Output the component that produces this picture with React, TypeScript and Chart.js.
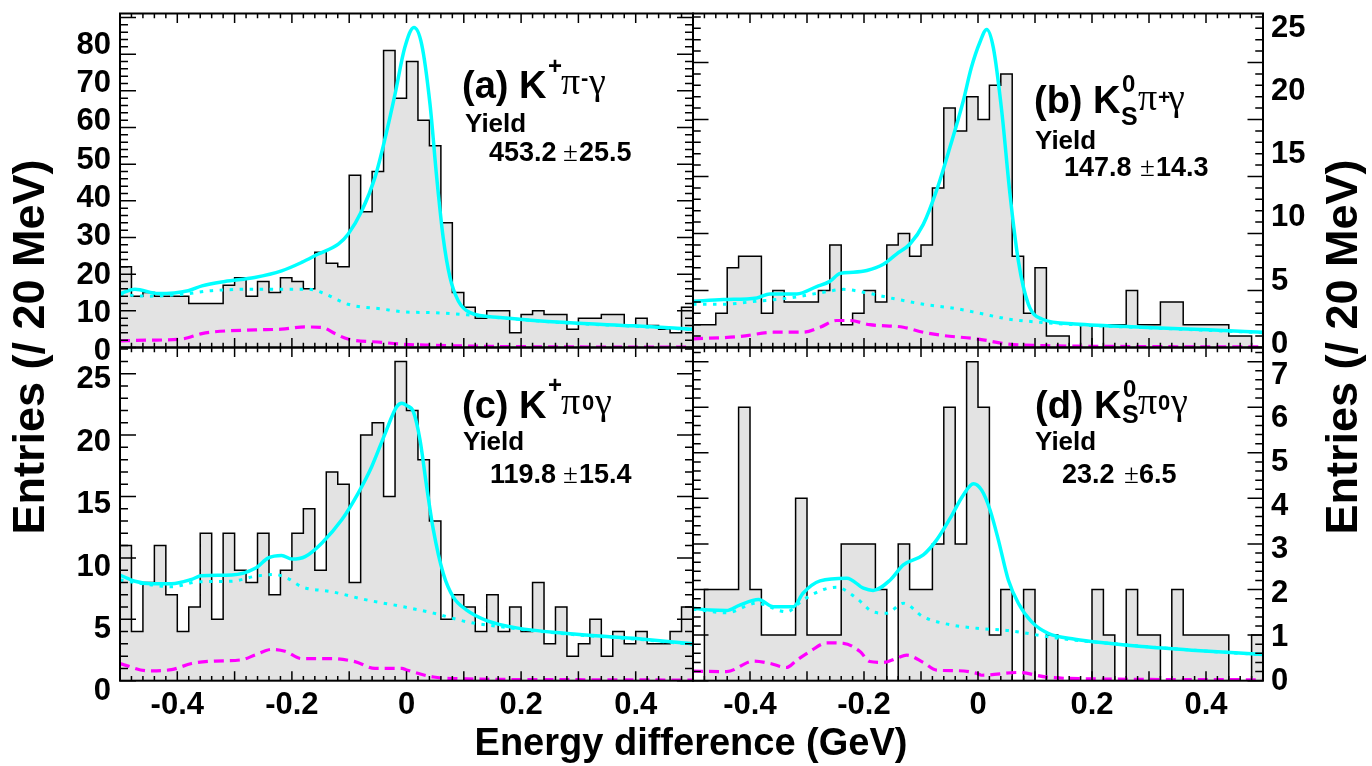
import React, { useEffect, useRef } from "react";
import { Chart, registerables } from "chart.js";

Chart.register(...registerables);

// 50 bins of 20 MeV between -0.5 and 0.5 GeV
const BIN_LOW = -0.5;
const BIN_WIDTH = 0.02;
const X_MINOR = 0.02;

// Entries per bin
const countsA = [22, 14, 15, 14, 14, 14, 12, 12, 12, 17, 19, 14, 18, 15, 19, 18, 16, 26, 23, 22, 47, 37, 48, 81, 68,
  78, 62, 55, 34, 15, 11, 8, 10, 10, 4, 9, 10, 9, 9, 5, 8, 8, 9, 9, 6, 8, 6, 5, 4, 11];
const countsB = [2, 2, 3, 7, 8, 8, 3, 5, 4, 4, 4, 5, 9, 2, 3, 5, 4, 9, 10, 8, 9, 14, 21, 19, 22,
  20, 23, 24, 8, 3, 7, 1, 1, 0, 2, 0, 2, 2, 5, 2, 2, 4, 4, 2, 2, 2, 2, 1, 1, 0];
const countsC = [11, 4, 8, 11, 7, 4, 6, 12, 5, 12, 9, 8, 12, 7, 9, 12, 14, 9, 17, 16, 8, 20, 21, 15, 26,
  22, 18, 13, 5, 7, 6, 4, 7, 4, 6, 4, 8, 3, 6, 2, 3, 5, 2, 4, 3, 4, 3, 3, 4, 6];
const countsD = [0, 2, 2, 2, 6, 2, 1, 1, 1, 4, 1, 1, 1, 3, 3, 3, 2, 0, 3, 2, 2, 3, 6, 3, 7,
  6, 1, 2, 0, 2, 0, 1, 0, 0, 0, 2, 1, 0, 2, 1, 1, 0, 2, 1, 1, 1, 1, 0, 0, 1];

// Total fit (solid), background (dotted) and peaking background (dashed): [GeV, entries]
const fitA = [[-0.5, 14.7], [-0.474, 15.9], [-0.433, 14.7], [-0.381, 15.5], [-0.357, 16.8], [-0.317, 18.0],
  [-0.265, 19.1], [-0.218, 20.9], [-0.183, 23.2], [-0.154, 25.5], [-0.119, 28.2], [-0.102, 30.9], [-0.078, 37.3],
  [-0.055, 46.4], [-0.037, 57.3], [-0.02, 69.1], [-0.003, 81.8], [0.013, 87.3], [0.0265, 82.7], [0.041, 66.4],
  [0.0527, 46.4], [0.064, 30.0], [0.0759, 19.1], [0.0904, 12.7], [0.111, 9.5], [0.163, 8.2], [0.279, 6.8],
  [0.396, 5.9], [0.5, 5.0]];
const bkgA = [[-0.5, 14.5], [-0.45, 14.0], [-0.392, 14.5], [-0.34, 15.5], [-0.264, 15.9], [-0.171, 15.9],
  [-0.148, 15.0], [-0.102, 11.8], [-0.043, 10.5], [-0.003, 9.7], [0.047, 9.5], [0.105, 8.9], [0.163, 8.1],
  [0.279, 6.7], [0.396, 5.8], [0.5, 4.9]];
const peakA = [[-0.5, 1.8], [-0.45, 2.0], [-0.392, 2.3], [-0.357, 3.8], [-0.334, 4.3], [-0.264, 4.8],
  [-0.218, 5.0], [-0.177, 5.6], [-0.148, 5.5], [-0.125, 3.8], [-0.102, 2.3], [-0.043, 1.4], [-0.008, 0.9],
  [0.047, 0.6], [0.105, 0.4], [0.221, 0.2], [0.5, 0.1]];

const fitB = [[-0.5, 4.06], [-0.447, 4.2], [-0.388, 4.35], [-0.365, 4.7], [-0.318, 4.7], [-0.283, 5.35],
  [-0.26, 5.8], [-0.242, 6.5], [-0.219, 6.6], [-0.195, 6.75], [-0.166, 7.3], [-0.143, 8.2], [-0.119, 9.1],
  [-0.096, 10.8], [-0.0725, 13.8], [-0.049, 17.6], [-0.026, 21.6], [-0.012, 24.5], [0.0035, 26.8],
  [0.0152, 27.9], [0.0269, 26.3], [0.0415, 20.8], [0.056, 13.5], [0.0708, 7.6], [0.0883, 3.8], [0.112, 2.5],
  [0.17, 2.07], [0.287, 1.78], [0.404, 1.55], [0.5, 1.34]];
const bkgB = [[-0.5, 3.8], [-0.447, 3.8], [-0.388, 4.06], [-0.33, 4.35], [-0.271, 4.85], [-0.236, 5.1],
  [-0.201, 4.85], [-0.154, 4.35], [-0.096, 3.8], [-0.037, 3.4], [0.0035, 3.0], [0.053, 2.5], [0.112, 2.2],
  [0.17, 2.0], [0.287, 1.75], [0.404, 1.5], [0.5, 1.3]];
const peakB = [[-0.5, 0.76], [-0.418, 0.96], [-0.359, 1.34], [-0.307, 1.34], [-0.277, 1.78], [-0.248, 2.37],
  [-0.225, 2.37], [-0.19, 2.0], [-0.131, 1.78], [-0.096, 1.34], [-0.061, 1.05], [-0.002, 0.76], [0.053, 0.3],
  [0.112, 0.17], [0.3, 0.08], [0.5, 0.05]];

const fitC = [[-0.5, 8.6], [-0.474, 8.1], [-0.445, 7.9], [-0.41, 7.9], [-0.375, 8.25], [-0.358, 8.55],
  [-0.305, 8.6], [-0.264, 9.15], [-0.241, 10.0], [-0.218, 10.2], [-0.2, 9.9], [-0.177, 10.1], [-0.148, 11.2],
  [-0.113, 13.1], [-0.084, 15.3], [-0.061, 17.4], [-0.0375, 20.1], [-0.0172, 22.3], [-0.008, 22.6],
  [0.0003, 22.4], [0.0119, 21.9], [0.0236, 19.6], [0.0352, 15.8], [0.0468, 12.3], [0.0643, 8.7],
  [0.0817, 6.8], [0.105, 5.75], [0.14, 4.9], [0.192, 4.3], [0.28, 3.85], [0.396, 3.45], [0.5, 3.0]];
const bkgC = [[-0.5, 8.2], [-0.445, 7.8], [-0.41, 7.65], [-0.363, 8.05], [-0.305, 8.1], [-0.264, 8.5],
  [-0.23, 8.65], [-0.206, 8.3], [-0.183, 7.65], [-0.131, 7.25], [-0.072, 6.6], [-0.003, 6.0], [0.047, 5.5],
  [0.105, 4.8], [0.163, 4.4], [0.28, 3.8], [0.396, 3.4], [0.5, 2.95]];
const peakC = [[-0.5, 1.4], [-0.45, 0.8], [-0.41, 0.9], [-0.375, 1.4], [-0.334, 1.6], [-0.288, 1.7],
  [-0.264, 2.1], [-0.235, 2.55], [-0.212, 2.4], [-0.183, 1.8], [-0.131, 1.8], [-0.09, 1.55], [-0.055, 1.0],
  [-0.008, 1.0], [0.0003, 0.87], [0.047, 0.3], [0.105, 0.15], [0.3, 0.08], [0.5, 0.05]];

const fitD = [[-0.5, 1.59], [-0.47, 1.55], [-0.441, 1.54], [-0.418, 1.66], [-0.385, 1.78], [-0.359, 1.62],
  [-0.324, 1.62], [-0.307, 1.92], [-0.277, 2.19], [-0.23, 2.25], [-0.201, 2.03], [-0.184, 1.98],
  [-0.154, 2.21], [-0.131, 2.54], [-0.096, 2.76], [-0.0725, 3.09], [-0.049, 3.56], [-0.026, 4.07],
  [-0.008, 4.32], [0.0064, 4.18], [0.021, 3.75], [0.0357, 3.09], [0.0532, 2.21], [0.0708, 1.7],
  [0.0942, 1.29], [0.123, 1.04], [0.17, 0.91], [0.229, 0.82], [0.287, 0.75], [0.375, 0.67], [0.5, 0.575]];
const bkgD = [[-0.5, 1.57], [-0.441, 1.49], [-0.388, 1.7], [-0.336, 1.51], [-0.307, 1.77], [-0.271, 2.0],
  [-0.248, 2.05], [-0.213, 1.81], [-0.184, 1.51], [-0.16, 1.48], [-0.131, 1.7], [-0.096, 1.4], [-0.061, 1.26],
  [-0.002, 1.15], [0.053, 1.1], [0.141, 0.93], [0.229, 0.82], [0.375, 0.67], [0.5, 0.57]];
const peakD = [[-0.5, 0.21], [-0.441, 0.2], [-0.394, 0.43], [-0.365, 0.38], [-0.336, 0.29], [-0.318, 0.45],
  [-0.295, 0.64], [-0.265, 0.83], [-0.236, 0.82], [-0.207, 0.64], [-0.19, 0.42], [-0.166, 0.4],
  [-0.143, 0.49], [-0.125, 0.56], [-0.096, 0.4], [-0.0725, 0.23], [-0.037, 0.22], [-0.002, 0.16],
  [0.006, 0.12], [0.071, 0.18], [0.12, 0.08], [0.2, 0.04], [0.5, 0.02]];

// Axis tick labels
const yLabelsA = [0, 10, 20, 30, 40, 50, 60, 70, 80];
const yLabelsB = [0, 5, 10, 15, 20, 25];
const yLabelsC = [0, 5, 10, 15, 20, 25];
const yLabelsD = [0, 1, 2, 3, 4, 5, 6, 7];
const xLabels = [-0.4, -0.2, 0, 0.2, 0.4];
const xLabelText = ["-0.4", "-0.2", "0", "0.2", "0.4"];

const Y_TITLE = "Entries (/ 20 MeV)";
const X_TITLE = "Energy difference (GeV)";

const W = 1372;
const H = 766;

const SANS = (px) => `bold ${px}px "Liberation Sans", Arial, Helvetica, sans-serif`;
const SERIF = (px) => `${px}px "Liberation Serif", "Times New Roman", serif`;

// Panel captions: text runs placed individually (super/subscripts)
const captionA = [
  { t: "(a) K", x: 462, y: 98, f: SANS(38) },
  { t: "+", x: 548, y: 74, f: SANS(24) },
  { t: "π", x: 561, y: 94, f: SERIF(38) },
  { t: "-", x: 581, y: 85, f: SANS(22) },
  { t: "γ", x: 589, y: 94, f: SERIF(38) },
  { t: "Yield", x: 465, y: 131.5, f: SANS(26) },
  { t: "453.2", x: 489, y: 160.5, f: SANS(27) },
  { t: "±", x: 563, y: 160.5, f: SERIF(27) },
  { t: "25.5", x: 579, y: 160.5, f: SANS(27) },
];
const captionB = [
  { t: "(b) K", x: 1034, y: 113, f: SANS(38) },
  { t: "0", x: 1122, y: 92, f: SANS(24) },
  { t: "S", x: 1121, y: 125, f: SANS(25) },
  { t: "π", x: 1138, y: 110, f: SERIF(38) },
  { t: "+", x: 1158, y: 104, f: SANS(21) },
  { t: "γ", x: 1168, y: 110, f: SERIF(38) },
  { t: "Yield", x: 1035, y: 149, f: SANS(26) },
  { t: "147.8", x: 1064, y: 175.5, f: SANS(27) },
  { t: "±", x: 1140, y: 175.5, f: SERIF(27) },
  { t: "14.3", x: 1156, y: 175.5, f: SANS(27) },
];
const captionC = [
  { t: "(c) K", x: 462, y: 418, f: SANS(38) },
  { t: "+", x: 548, y: 393, f: SANS(24) },
  { t: "π", x: 561, y: 414, f: SERIF(38) },
  { t: "0", x: 582, y: 410, f: SANS(22) },
  { t: "γ", x: 595, y: 414, f: SERIF(38) },
  { t: "Yield", x: 463, y: 450, f: SANS(26) },
  { t: "119.8", x: 490, y: 482.5, f: SANS(27) },
  { t: "±", x: 563, y: 482.5, f: SERIF(27) },
  { t: "15.4", x: 579, y: 482.5, f: SANS(27) },
];
const captionD = [
  { t: "(d) K", x: 1035, y: 418, f: SANS(38) },
  { t: "0", x: 1123, y: 397, f: SANS(24) },
  { t: "S", x: 1122, y: 423, f: SANS(25) },
  { t: "π", x: 1138, y: 414, f: SERIF(38) },
  { t: "0", x: 1158, y: 410, f: SANS(22) },
  { t: "γ", x: 1171, y: 414, f: SERIF(38) },
  { t: "Yield", x: 1035, y: 450, f: SANS(26) },
  { t: "23.2", x: 1062, y: 482.5, f: SANS(27) },
  { t: "±", x: 1124, y: 482.5, f: SERIF(27) },
  { t: "6.5", x: 1139, y: 482.5, f: SANS(27) },
];

// Frame boxes, tick spacing and label-axis ranges per panel
const PANELS = [
  {
    key: "a", counts: countsA, fit: fitA, bkg: bkgA, peak: peakA, caption: captionA,
    box: { left: 120, top: 13.5, right: 693, bottom: 347.5 },
    yMax: 91.1, yMinor: 2, yMajorEvery: 5, yTick: 16,
    lab: { min: 1.096, max: 88.23, values: yLabelsA, side: "left" }, xLab: false,
  },
  {
    key: "b", counts: countsB, fit: fitB, bkg: bkgB, peak: peakB, caption: captionB,
    box: { left: 693, top: 13.5, right: 1263, bottom: 347.5 },
    yMax: 29.3, yMinor: 1, yMajorEvery: 5, yTick: 15.5,
    lab: { min: -0.24, max: 26.15, values: yLabelsB, side: "right" }, xLab: false,
  },
  {
    key: "c", counts: countsC, fit: fitC, bkg: bkgC, peak: peakC, caption: captionC,
    box: { left: 120, top: 347.5, right: 693, bottom: 680.7 },
    yMax: 27.13, yMinor: 1, yMajorEvery: 5, yTick: 16,
    lab: { min: 0.9, max: 27.56, values: yLabelsC, side: "left" }, xLab: true,
  },
  {
    key: "d", counts: countsD, fit: fitD, bkg: bkgD, peak: peakD, caption: captionD,
    box: { left: 693, top: 347.5, right: 1263, bottom: 680.7 },
    yMax: 7.31, yMinor: 0.2, yMajorEvery: 5, yTick: 15.5,
    lab: { min: 0.007, max: 7.63, values: yLabelsD, side: "right" }, xLab: true,
  },
];

// Step outline: each bin's height is held from its low edge to the next edge
function histPoints(counts) {
  const pts = counts.map((c, i) => ({ x: BIN_LOW + i * BIN_WIDTH, y: c }));
  pts.push({ x: BIN_LOW + counts.length * BIN_WIDTH, y: counts[counts.length - 1] });
  return pts;
}
const toXY = (arr) => arr.map(([x, y]) => ({ x, y }));

function decorPlugin(spec) {
  return {
    id: "decor_" + spec.key,
    afterDatasetsDraw(chart) {
      const ctx = chart.ctx;
      const a = chart.chartArea;
      const xs = chart.scales.x;
      const ys = chart.scales.y;
      const yl = chart.scales.yLab;
      ctx.save();
      ctx.strokeStyle = "#000";
      ctx.lineWidth = 1.5;
      ctx.beginPath();
      const nx = Math.round(1 / X_MINOR);
      for (let k = 0; k <= nx; k++) {
        const px = xs.getPixelForValue(-0.5 + k * X_MINOR);
        const len = k % 5 === 0 ? 9.5 : 4.8;
        ctx.moveTo(px, a.bottom);
        ctx.lineTo(px, a.bottom - len);
        ctx.moveTo(px, a.top);
        ctx.lineTo(px, a.top + len);
      }
      for (let k = 0; k * spec.yMinor <= spec.yMax + 1e-9; k++) {
        const py = ys.getPixelForValue(k * spec.yMinor);
        const len = k % spec.yMajorEvery === 0 ? spec.yTick : spec.yTick / 2;
        ctx.moveTo(a.left, py);
        ctx.lineTo(a.left + len, py);
        ctx.moveTo(a.right, py);
        ctx.lineTo(a.right - len, py);
      }
      ctx.stroke();
      ctx.lineWidth = 2;
      ctx.strokeRect(a.left, a.top, a.right - a.left, a.bottom - a.top);

      ctx.fillStyle = "#000";
      ctx.font = SANS(31);
      ctx.textBaseline = "middle";
      if (spec.lab.side === "left") {
        ctx.textAlign = "right";
        spec.lab.values.forEach((v) => ctx.fillText(String(v), 111, yl.getPixelForValue(v)));
      } else {
        ctx.textAlign = "left";
        spec.lab.values.forEach((v) => ctx.fillText(String(v), 1271, yl.getPixelForValue(v)));
      }
      if (spec.xLab) {
        ctx.textAlign = "center";
        xLabels.forEach((v, i) => ctx.fillText(xLabelText[i], xs.getPixelForValue(v), 705));
      }

      ctx.textAlign = "left";
      ctx.textBaseline = "alphabetic";
      spec.caption.forEach((r) => {
        ctx.font = r.f;
        ctx.fillText(r.t, r.x, r.y);
      });

      if (spec.key === "a") {
        ctx.font = SANS(38);
        ctx.textAlign = "center";
        ctx.textBaseline = "middle";
        ctx.fillText(X_TITLE, 691, 745);
        ctx.font = SANS(45);
        [32, 1345].forEach((cx) => {
          ctx.save();
          ctx.translate(cx, 347);
          ctx.rotate(-Math.PI / 2);
          ctx.fillText(Y_TITLE, 0, 0);
          ctx.restore();
        });
      }
      ctx.restore();
    },
  };
}

function makeConfig(spec) {
  const curve = (data, color, width, dash, order) => ({
    data: toXY(data),
    borderColor: color,
    borderWidth: width,
    borderDash: dash,
    borderCapStyle: "butt",
    pointRadius: 0,
    fill: false,
    cubicInterpolationMode: "monotone",
    order,
  });
  return {
    type: "line",
    data: {
      datasets: [
        {
          data: histPoints(spec.counts),
          stepped: "before",
          fill: "origin",
          backgroundColor: "#e3e3e3",
          borderColor: "#000",
          borderWidth: 1.5,
          pointRadius: 0,
          order: 10,
        },
        curve(spec.peak, "#ff00ff", 3.2, [10, 6], 3),
        curve(spec.bkg, "#00ffff", 3, [3.5, 6.5], 2),
        curve(spec.fit, "#00ffff", 3.5, [], 1),
      ],
    },
    options: {
      responsive: false,
      animation: false,
      events: [],
      layout: {
        padding: {
          left: spec.box.left,
          top: spec.box.top,
          right: W - spec.box.right,
          bottom: H - spec.box.bottom,
        },
      },
      plugins: { legend: { display: false }, tooltip: { enabled: false }, title: { display: false } },
      scales: {
        x: { type: "linear", min: -0.5, max: 0.5, display: false },
        y: { type: "linear", min: 0, max: spec.yMax, display: false },
        yLab: { type: "linear", axis: "y", min: spec.lab.min, max: spec.lab.max, display: false },
      },
    },
    plugins: [decorPlugin(spec)],
  };
}

function Panel({ spec }) {
  const ref = useRef(null);
  useEffect(() => {
    const chart = new Chart(ref.current, makeConfig(spec));
    return () => chart.destroy();
  }, [spec]);
  return (
    <canvas
      ref={ref}
      width={W}
      height={H}
      style={{ position: "absolute", left: 0, top: 0, width: W, height: H }}
    />
  );
}

export default function App() {
  return (
    <div style={{ position: "fixed", left: 0, top: 0, width: W, height: H, background: "#fff" }}>
      {PANELS.map((p) => (
        <Panel key={p.key} spec={p} />
      ))}
    </div>
  );
}
